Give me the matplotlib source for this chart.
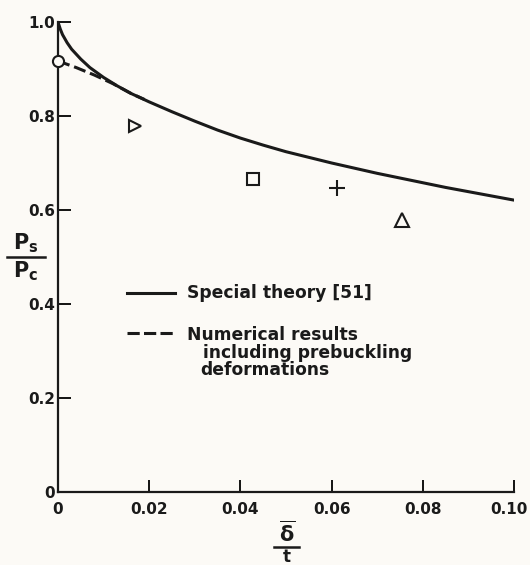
import numpy as np
import matplotlib
matplotlib.use("Agg")
import matplotlib.pyplot as plt
import matplotlib.transforms as mtransforms
from matplotlib.lines import Line2D

# Special theory [51] (solid curve)
x_theory = [0.0, 0.0005, 0.001, 0.002, 0.003, 0.005, 0.007, 0.010, 0.013, 0.016,
            0.020, 0.025, 0.030, 0.035, 0.040, 0.045, 0.050, 0.055, 0.060, 0.065,
            0.070, 0.075, 0.080, 0.085, 0.090, 0.095, 0.100]
y_theory = [1.0, 0.985, 0.973, 0.956, 0.942, 0.921, 0.903, 0.882, 0.864, 0.848,
            0.830, 0.809, 0.789, 0.770, 0.753, 0.738, 0.724, 0.712, 0.700, 0.689,
            0.678, 0.668, 0.658, 0.648, 0.639, 0.630, 0.621]

# Numerical results including prebuckling deformations (dashed)
x_num = [0.0, 0.004, 0.008, 0.012, 0.016, 0.019]
y_num = [0.917, 0.903, 0.887, 0.869, 0.848, 0.835]

# test points
x_circ, y_circ = [0.0], [0.917]
x_tri_r, y_tri_r = [0.0169], [0.779]
x_sq, y_sq = [0.0428], [0.666]
x_plus, y_plus = [0.0612], [0.647]
x_tri_u, y_tri_u = [0.0754], [0.579]

xticks = [0, 0.02, 0.04, 0.06, 0.08, 0.10]
xticklabels = ["0", "0.02", "0.04", "0.06", "0.08", "0.10"]
yticks = [0, 0.2, 0.4, 0.6, 0.8, 1.0]
yticklabels = ["0", "0.2", "0.4", "0.6", "0.8", "1.0"]

bg = "#fcfaf6"
ink = "#1a1a1a"
plt.rcParams['font.family'] = ['DejaVu Sans']

W, H = 530, 565
fig = plt.figure(figsize=(W / 100, H / 100), dpi=100, facecolor=bg)
ax = fig.add_axes([0.1094, 0.1292, 0.8604, 0.8319])
ax.set_facecolor(bg)

ax.plot(x_theory, y_theory, color=ink, lw=2.2, solid_capstyle='round', zorder=3)
ax.plot(x_num, y_num, color=ink, lw=2.2, ls=(0, (4, 1.6)), zorder=3)

mk = dict(color=ink, mfc=bg, mew=1.5, ls='none', zorder=4, clip_on=False)
ax.plot(x_circ, y_circ, marker='o', ms=8, **mk)
ax.plot(x_tri_r, y_tri_r, marker='>', ms=9, **mk)
ax.plot(x_sq, y_sq, marker='s', ms=8.5, **mk)
ax.plot(x_plus, y_plus, marker='+', ms=11, **mk)
ax.plot(x_tri_u, y_tri_u, marker='^', ms=10, **mk)

ax.set_xlim(0, 0.10)
ax.set_ylim(0, 1.0)
ax.spines['top'].set_visible(False)
ax.spines['right'].set_visible(False)
for s in ['left', 'bottom']:
    ax.spines[s].set_linewidth(1.6)
    ax.spines[s].set_color(ink)

fs = 11
ax.set_xticks(xticks)
ax.set_xticklabels(xticklabels, fontsize=fs, color=ink, fontweight='bold')
ax.set_yticks(yticks)
ax.set_yticklabels(yticklabels, fontsize=fs, color=ink, fontweight='bold')
ax.tick_params(axis='x', direction='in', length=9, width=1.3, pad=7)
ax.tick_params(axis='y', direction='in', length=9, width=1.3, pad=2)
# last x label sits a bit left of its tick, as in the original
last = ax.get_xticklabels()[-1]
last.set_transform(last.get_transform() +
                   mtransforms.ScaledTranslation(-5 / 100, 0, fig.dpi_scale_trans))


def px(x, y):
    return x / W, 1 - y / H


# y label: Ps over Pc
fig.text(*px(26, 243), r"$\mathbf{P_s}$", fontsize=15, ha='center', va='center', color=ink)
fig.add_artist(Line2D([7 / W, 45 / W], [1 - 257 / H] * 2, color=ink, lw=1.8))
fig.text(*px(26, 271), r"$\mathbf{P_c}$", fontsize=15, ha='center', va='center', color=ink)

# x label: delta-bar over t
fig.text(*px(287, 533), r"$\mathbf{\overline{\delta}}$", fontsize=15, ha='center',
         va='center', color=ink)
fig.add_artist(Line2D([274 / W, 299 / W], [1 - 547 / H] * 2, color=ink, lw=1.8))
fig.text(*px(287, 557), "t", fontsize=12, fontweight='bold', ha='center',
         va='center', color=ink)

# legend drawn by hand
tk = dict(fontsize=12.3, fontweight='bold', va='center', ha='left', color=ink)
ax.plot([0.0151, 0.0256], [0.424, 0.424], color=ink, lw=2.2, clip_on=False)
ax.text(0.0283, 0.424, "Special theory [51]", **tk)
ax.plot([0.0151, 0.0256], [0.339, 0.339], color=ink, lw=2.2, ls=(0, (4, 1.4)))
ax.text(0.0283, 0.335, "Numerical results", **tk)
ax.text(0.0318, 0.296, "including prebuckling", **tk)
ax.text(0.0312, 0.259, "deformations", **tk)

fig.savefig("out.png", dpi=100, facecolor=bg)
